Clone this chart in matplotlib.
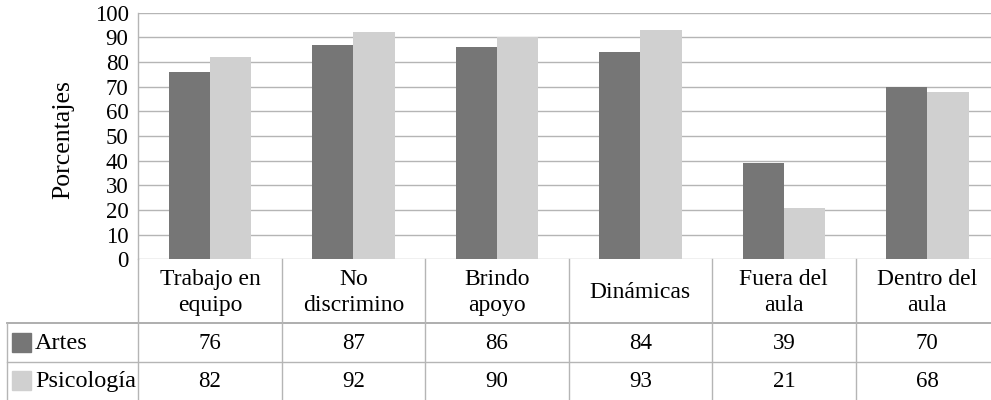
import matplotlib.pyplot as plt
import numpy as np
from matplotlib.patches import Rectangle

plt.rcParams['font.family'] = ['Liberation Serif', 'DejaVu Serif']
plt.rcParams['font.size'] = 16

categorias = ["Trabajo en\nequipo", "No\ndiscrimino", "Brindo\napoyo",
              "Dinámicas", "Fuera del\naula", "Dentro del\naula"]
series = ["Artes", "Psicología"]
artes = [76, 87, 86, 84, 39, 70]
psicologia = [82, 92, 90, 93, 21, 68]
colores = ["#767676", "#d0d0d0"]
yticks = list(range(0, 101, 10))

W, H = 991, 400
fig = plt.figure(figsize=(W / 100, H / 100), dpi=100)

# pixel layout
x_left_tab = 6.7
x_plot = 138.3
col_w = 143.45
x_right = x_plot + 6 * col_w
y_top = 12.7
y_zero = 259.3
y_hdr = 323.3
y_row1 = 361.7
grid_c = "#b5b5b5"

ax = fig.add_axes([x_plot / W, 1 - y_zero / H, (x_right - x_plot) / W, (y_zero - y_top) / H])
x = np.arange(len(categorias))
bw = 41.3 / col_w
ax.bar(x - bw / 2, artes, bw, color=colores[0], zorder=3)
ax.bar(x + bw / 2, psicologia, bw, color=colores[1], zorder=3)
ax.set_xlim(-0.5, 5.5)
ax.set_ylim(0, 100)
ax.set_yticks(yticks)
ax.set_xticks([])
ax.grid(axis='y', color=grid_c, linewidth=1.0, zorder=0)
for s in ['top', 'right', 'bottom']:
    ax.spines[s].set_visible(False)
ax.spines['left'].set_color(grid_c)
ax.spines['left'].set_linewidth(1.0)
ax.tick_params(axis='y', length=0, pad=7, labelsize=16.5)
fig.text(63 / W, 1 - 140 / H, "Porcentajes", rotation=90, ha='center', va='center', fontsize=18.5)

# data table under the chart
px = 1 / col_w
xl = -0.5 - (x_plot - x_left_tab) * px
tax = fig.add_axes([x_left_tab / W, 0, (x_right - x_left_tab) / W, (H - y_zero) / H])
tax.set_xlim(xl, 5.5)
tax.set_ylim(H, y_zero)
tax.axis('off')

tax.plot([xl, 5.5], [y_hdr, y_hdr], color="#a8a8a8", lw=1.3, clip_on=False)
tax.plot([xl, 5.5], [y_row1, y_row1], color=grid_c, lw=1.0, clip_on=False)
tax.plot([xl, xl], [y_hdr, H], color=grid_c, lw=1.0, clip_on=False)
for b in np.arange(-0.5, 5.0, 1.0):
    tax.plot([b, b], [y_zero, H], color=grid_c, lw=1.0, clip_on=False)

for i, c in enumerate(categorias):
    tax.text(i, (y_zero + y_hdr) / 2 + 1, c, ha='center', va='center', linespacing=1.32, fontsize=17)
    tax.text(i, (y_hdr + y_row1) / 2 + 1, str(artes[i]), ha='center', va='center', fontsize=16.5)
    tax.text(i, (y_row1 + H) / 2 + 1, str(psicologia[i]), ha='center', va='center', fontsize=16.5)

for r, (nombre, col) in enumerate(zip(series, colores)):
    yc = [(y_hdr + y_row1) / 2, (y_row1 + H) / 2][r]
    tax.add_patch(Rectangle((xl + 5.6 * px, yc - 9.5), 18.7 * px, 19, color=col, clip_on=False))
    tax.text(xl + 28.5 * px, yc + 1, nombre, ha='left', va='center', fontsize=17.5)

fig.savefig("out.png", dpi=100)
